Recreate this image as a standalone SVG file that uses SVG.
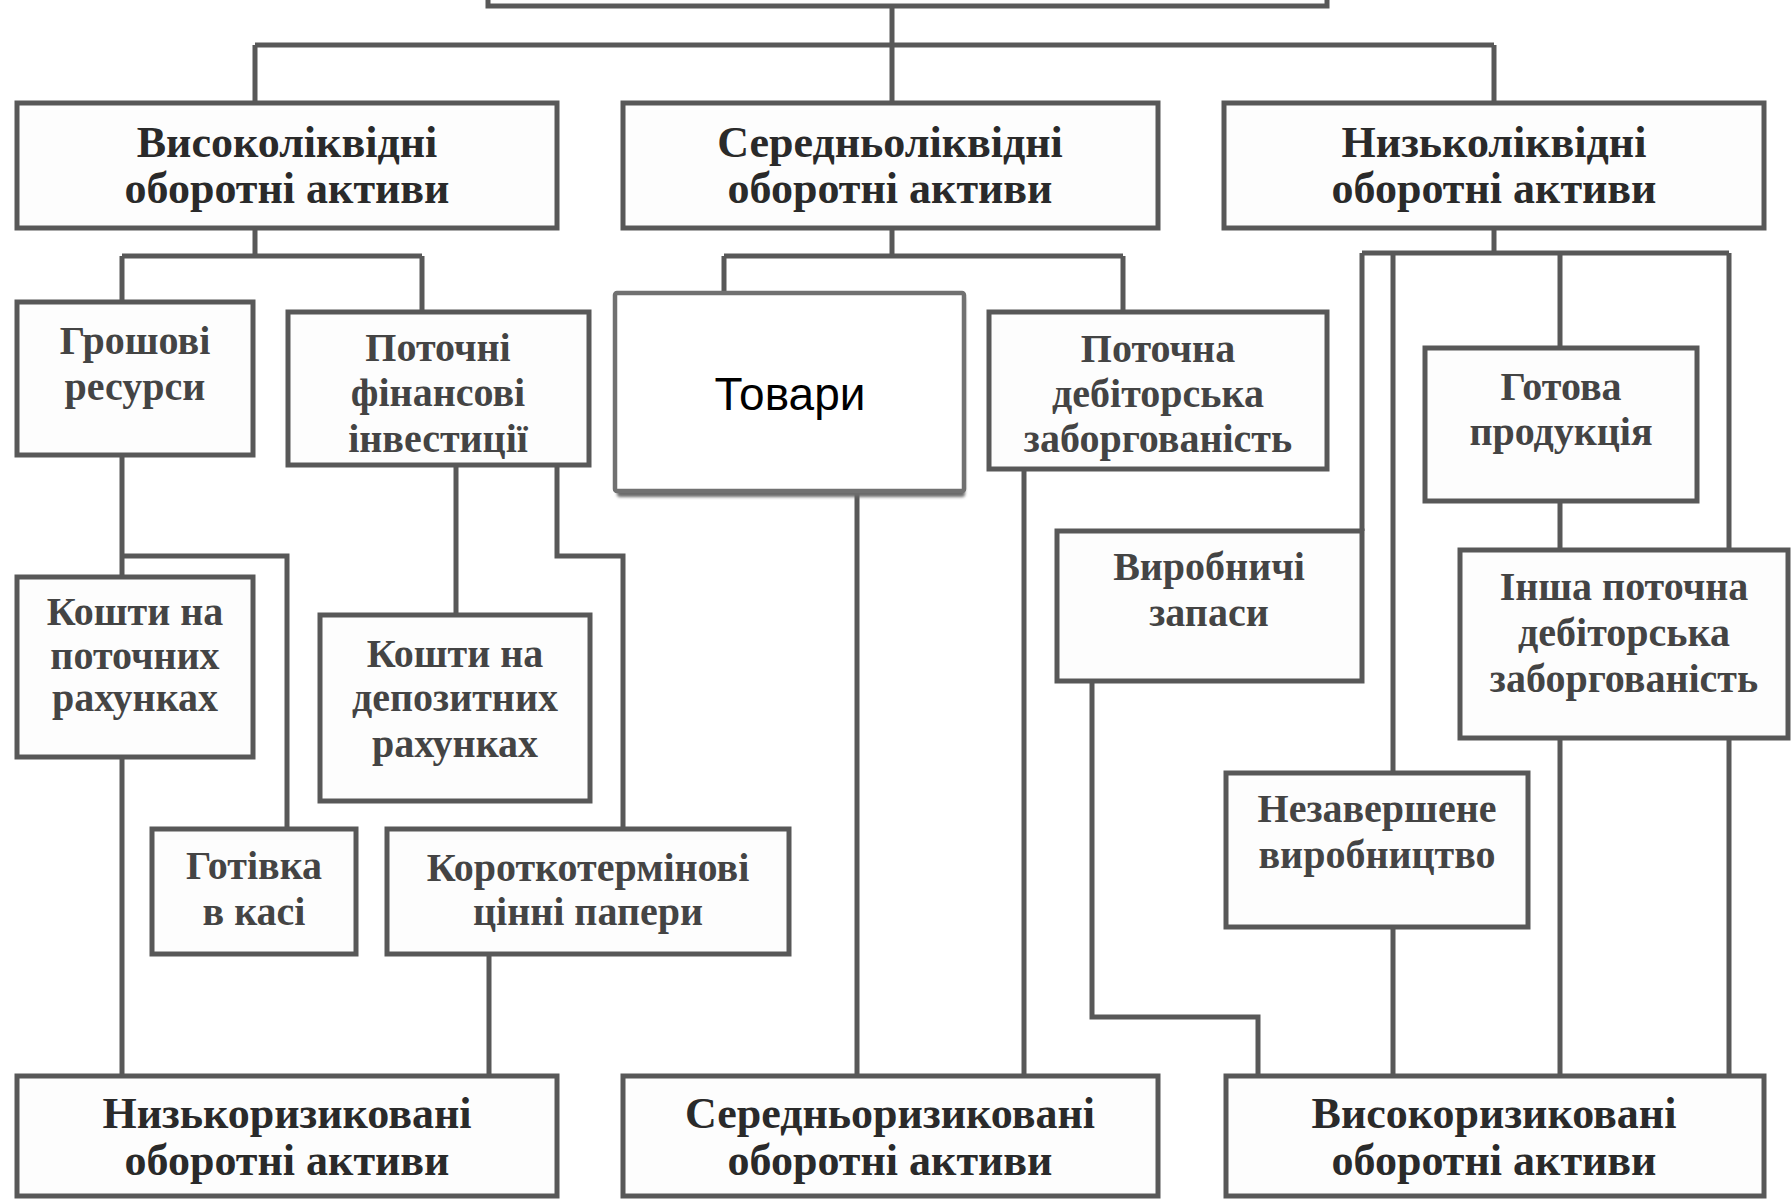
<svg xmlns="http://www.w3.org/2000/svg" width="1791" height="1199" viewBox="0 0 1791 1199">
<defs>
<filter id="soft" x="-5%" y="-5%" width="110%" height="115%"><feGaussianBlur stdDeviation="1.5"/></filter>
</defs>
<style>
.box{fill:#fdfdfd;stroke:#585858;stroke-width:5}
.conn{fill:none;stroke:#585858;stroke-width:5;stroke-linejoin:miter}
.h{font-family:"Liberation Serif","DejaVu Serif",serif;font-weight:bold;font-size:44px;fill:#2a2a2a;text-anchor:middle}
.t{font-family:"Liberation Serif","DejaVu Serif",serif;font-weight:bold;font-size:40px;fill:#444;text-anchor:middle}
.s{font-family:"Liberation Sans",Arial,sans-serif;font-size:46px;fill:#000;text-anchor:middle}
</style>
<rect width="1791" height="1199" fill="#ffffff"/>
<g id="connectors">
<path class="conn" d="M892,6 V45 M255,45 H1494 M255,45 V103 M892,45 V103 M1494,45 V103"/>
<path class="conn" d="M255,228 V256 M122,256 H422 M122,256 V302 M422,256 V312"/>
<path class="conn" d="M892,228 V256 M724,256 H1123 M724,256 V294 M1123,256 V312"/>
<path class="conn" d="M1494,228 V253 M1362,253 H1729 M1362,253 V531 M1393,253 V773 M1560,253 V348 M1729,253 V550"/>
<path class="conn" d="M122,455 V577 M122,556 H287 V829 M122,757 V1076"/>
<path class="conn" d="M456,465 V615 M557,465 V556 H623 V829 M489,954 V1076"/>
<path class="conn" d="M857,491 V1076 M1024,469 V1076"/>
<path class="conn" d="M1092,681 V1017 H1258 V1076 M1393,927 V1076"/>
<path class="conn" d="M1560,501 V550 M1560,738 V1076 M1729,738 V1076"/>
</g>
<g id="root"><rect class="box" x="488" y="-20" width="839" height="26"/></g>
<g id="high-liquid"><rect class="box" x="17" y="103" width="540" height="125"/>
<text class="h" x="287" y="157">Високоліквідні</text><text class="h" x="287" y="203">оборотні активи</text></g>
<g id="mid-liquid"><rect class="box" x="623" y="103" width="535" height="125"/>
<text class="h" x="890" y="157">Середньоліквідні</text><text class="h" x="890" y="203">оборотні активи</text></g>
<g id="low-liquid"><rect class="box" x="1224" y="103" width="540" height="125"/>
<text class="h" x="1494" y="157">Низьколіквідні</text><text class="h" x="1494" y="203">оборотні активи</text></g>
<g id="cash"><rect class="box" x="17" y="302" width="236" height="153"/>
<text class="t" x="135" y="354">Грошові</text><text class="t" x="135" y="400">ресурси</text></g>
<g id="fin-invest"><rect class="box" x="288" y="312" width="301" height="153"/>
<text class="t" x="438" y="361">Поточні</text><text class="t" x="438" y="406">фінансові</text><text class="t" x="438" y="452">інвестиції</text></g>
<g id="goods"><rect x="617" y="297" width="348" height="200" rx="3" fill="#6a6a6a" filter="url(#soft)"/>
<rect x="615" y="293" width="349" height="198" rx="2" fill="#ffffff" stroke="#717171" stroke-width="4.5"/>
<text class="s" x="790" y="410">Товари</text></g>
<g id="receivable"><rect class="box" x="989" y="312" width="338" height="157"/>
<text class="t" x="1158" y="362">Поточна</text><text class="t" x="1158" y="407">дебіторська</text><text class="t" x="1158" y="452">заборгованість</text></g>
<g id="finished"><rect class="box" x="1425" y="348" width="272" height="153"/>
<text class="t" x="1561" y="400">Готова</text><text class="t" x="1561" y="445">продукція</text></g>
<g id="stocks"><rect class="box" x="1057" y="531" width="305" height="150"/>
<text class="t" x="1209" y="580">Виробничі</text><text class="t" x="1209" y="626">запаси</text></g>
<g id="other-receivable"><rect class="box" x="1460" y="550" width="328" height="188"/>
<text class="t" x="1624" y="600">Інша поточна</text><text class="t" x="1624" y="646">дебіторська</text><text class="t" x="1624" y="692">заборгованість</text></g>
<g id="wip"><rect class="box" x="1226" y="773" width="302" height="154"/>
<text class="t" x="1377" y="822">Незавершене</text><text class="t" x="1377" y="868">виробництво</text></g>
<g id="current-accounts"><rect class="box" x="17" y="577" width="236" height="180"/>
<text class="t" x="135" y="625">Кошти на</text><text class="t" x="135" y="669">поточних</text><text class="t" x="135" y="711">рахунках</text></g>
<g id="deposit-accounts"><rect class="box" x="320" y="615" width="270" height="186"/>
<text class="t" x="455" y="667">Кошти на</text><text class="t" x="455" y="711">депозитних</text><text class="t" x="455" y="757">рахунках</text></g>
<g id="cash-desk"><rect class="box" x="152" y="829" width="204" height="125"/>
<text class="t" x="254" y="879">Готівка</text><text class="t" x="254" y="925">в касі</text></g>
<g id="securities"><rect class="box" x="387" y="829" width="402" height="125"/>
<text class="t" x="588" y="881">Короткотермінові</text><text class="t" x="588" y="925">цінні папери</text></g>
<g id="low-risk"><rect class="box" x="17" y="1076" width="540" height="120"/>
<text class="h" x="287" y="1128">Низькоризиковані</text><text class="h" x="287" y="1175">оборотні активи</text></g>
<g id="mid-risk"><rect class="box" x="623" y="1076" width="535" height="120"/>
<text class="h" x="890" y="1128">Середньоризиковані</text><text class="h" x="890" y="1175">оборотні активи</text></g>
<g id="high-risk"><rect class="box" x="1226" y="1076" width="538" height="120"/>
<text class="h" x="1494" y="1128">Високоризиковані</text><text class="h" x="1494" y="1175">оборотні активи</text></g>
</svg>
